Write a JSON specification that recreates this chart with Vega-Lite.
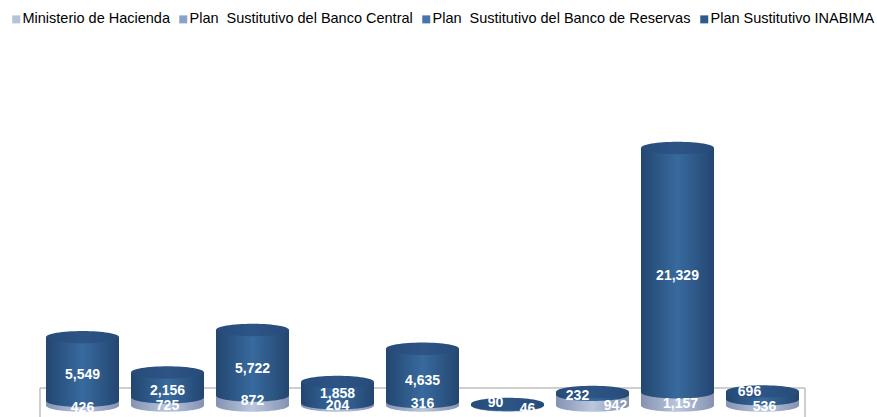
{"$schema":"https://vega.github.io/schema/vega-lite/v6.json","width":765,"height":417,"autosize":"none","padding":{"left":40,"right":72,"top":0,"bottom":0},"background":"white","config":{"view":{"stroke":null},"axis":{"disable":true},"text":{"font":"Liberation Sans","fontWeight":"bold","fontSize":14,"fill":"white","align":"center","baseline":"middle"}},"datasets":{"d":[{"i":0,"series":"Ministerio de Hacienda","value":426},{"i":0,"series":"Plan Sustitutivo INABIMA","value":5549},{"i":1,"series":"Ministerio de Hacienda","value":725},{"i":1,"series":"Plan Sustitutivo INABIMA","value":2156},{"i":2,"series":"Ministerio de Hacienda","value":872},{"i":2,"series":"Plan Sustitutivo INABIMA","value":5722},{"i":3,"series":"Ministerio de Hacienda","value":204},{"i":3,"series":"Plan Sustitutivo INABIMA","value":1858},{"i":4,"series":"Ministerio de Hacienda","value":316},{"i":4,"series":"Plan Sustitutivo INABIMA","value":4635},{"i":5,"series":"Ministerio de Hacienda","value":46},{"i":5,"series":"Plan Sustitutivo INABIMA","value":90},{"i":6,"series":"Ministerio de Hacienda","value":942},{"i":6,"series":"Plan Sustitutivo INABIMA","value":232},{"i":7,"series":"Ministerio de Hacienda","value":1157},{"i":7,"series":"Plan Sustitutivo INABIMA","value":21329},{"i":8,"series":"Ministerio de Hacienda","value":536},{"i":8,"series":"Plan Sustitutivo INABIMA","value":696}],"frame":[{"side":"top","x":-0.5,"x2":8.5,"y":1528,"y2":1528},{"side":"left","x":-0.5,"x2":-0.5,"y":1528,"y2":-1004},{"side":"right","x":8.5,"x2":8.5,"y":1528,"y2":-1004}]},"layer":[{"data":{"name":"frame"},"mark":{"type":"rule","color":"#BFBFBF","strokeWidth":1.5},"encoding":{"x":{"field":"x","type":"quantitative","scale":{"domain":[-0.5,8.5],"nice":false,"zero":false,"padding":0}},"x2":{"field":"x2"},"y":{"field":"y","type":"quantitative","scale":{"domain":[-1004,35415],"nice":false,"zero":false}},"y2":{"field":"y2"}}},{"data":{"name":"d"},"transform":[{"stack":"value","groupby":["i"],"sort":[{"field":"series","order":"ascending"}],"as":["y0","y1"]},{"calculate":"(datum.y0+datum.y1)/2","as":"mid"}],"encoding":{"x":{"field":"i","type":"quantitative"}},"layer":[{"transform":[{"filter":"datum.series==='Ministerio de Hacienda'"}],"mark":{"type":"point","filled":true,"size":5329,"opacity":1,"shape":"M-1,0A1,0.17,0,1,0,1,0A1,0.17,0,1,0,-1,0Z","fill":{"gradient":"linear","x1":0,"x2":1,"y1":0,"y2":0,"stops":[{"offset":0,"color":"#8592B3"},{"offset":0.5,"color":"#BAC7DE"},{"offset":1,"color":"#8592B3"}]}},"encoding":{"y":{"field":"y0","type":"quantitative"}}},{"transform":[{"filter":"datum.series==='Ministerio de Hacienda'"}],"mark":{"type":"bar","size":73,"fill":{"gradient":"linear","x1":0,"x2":1,"y1":0,"y2":0,"stops":[{"offset":0,"color":"#8592B3"},{"offset":0.5,"color":"#BAC7DE"},{"offset":1,"color":"#8592B3"}]}},"encoding":{"y":{"field":"y0","type":"quantitative"},"y2":{"field":"y1"}}},{"transform":[{"filter":"datum.series==='Plan Sustitutivo INABIMA'"}],"mark":{"type":"point","filled":true,"size":5329,"opacity":1,"shape":"M-1,0A1,0.17,0,1,0,1,0A1,0.17,0,1,0,-1,0Z","fill":{"gradient":"linear","x1":0,"x2":1,"y1":0,"y2":0,"stops":[{"offset":0,"color":"#234670"},{"offset":0.5,"color":"#386A9E"},{"offset":1,"color":"#234670"}]}},"encoding":{"y":{"field":"y0","type":"quantitative"}}},{"transform":[{"filter":"datum.series==='Plan Sustitutivo INABIMA'"}],"mark":{"type":"bar","size":73,"fill":{"gradient":"linear","x1":0,"x2":1,"y1":0,"y2":0,"stops":[{"offset":0,"color":"#234670"},{"offset":0.5,"color":"#386A9E"},{"offset":1,"color":"#234670"}]}},"encoding":{"y":{"field":"y0","type":"quantitative"},"y2":{"field":"y1"}}},{"transform":[{"filter":"datum.series==='Plan Sustitutivo INABIMA'"}],"mark":{"type":"point","filled":true,"size":5329,"opacity":1,"shape":"M-1,0A1,0.17,0,1,0,1,0A1,0.17,0,1,0,-1,0Z","fill":{"gradient":"linear","x1":0,"x2":1,"y1":0,"y2":0,"stops":[{"offset":0,"color":"#274C7A"},{"offset":0.5,"color":"#2C5485"},{"offset":1,"color":"#274C7A"}]}},"encoding":{"y":{"field":"y1","type":"quantitative"}}},{"transform":[{"filter":"datum.i===0&&datum.value<0"}],"mark":{"type":"square","opacity":0},"encoding":{"y":{"field":"y1","type":"quantitative"},"color":{"field":"series","type":"nominal","scale":{"domain":["Ministerio de Hacienda","Plan \u00a0Sustitutivo del Banco Central","Plan \u00a0Sustitutivo del Banco de Reservas","Plan Sustitutivo INABIMA"],"range":["#B4C2DA","#8AA2C9","#4674AB","#2F5B8C"]},"legend":{"orient":"none","legendX":-31,"legendY":12,"direction":"horizontal","columns":4,"title":null,"symbolType":"square","symbolSize":64,"symbolOpacity":1,"symbolStrokeWidth":0,"labelFont":"Liberation Sans","labelFontSize":14.5,"labelColor":"#000000","labelOffset":-1,"labelLimit":400,"columnPadding":6}}}},{"transform":[{"filter":"datum.series==='Plan Sustitutivo INABIMA'&&indexof([0,1,2,4,7],datum.i)>=0"}],"mark":{"type":"text","dy":6},"encoding":{"y":{"field":"mid","type":"quantitative"},"text":{"field":"value","type":"quantitative","format":","}}},{"transform":[{"filter":"datum.series==='Plan Sustitutivo INABIMA'&&datum.i===3"}],"mark":{"type":"text","dy":1},"encoding":{"y":{"field":"mid","type":"quantitative"},"text":{"field":"value","type":"quantitative","format":","}}},{"transform":[{"filter":"datum.series==='Plan Sustitutivo INABIMA'&&datum.i===5"}],"mark":{"type":"text","dx":-12,"dy":-1},"encoding":{"y":{"field":"mid","type":"quantitative"},"text":{"field":"value","type":"quantitative","format":","}}},{"transform":[{"filter":"datum.series==='Plan Sustitutivo INABIMA'&&datum.i===6"}],"mark":{"type":"text","dx":-15,"dy":3},"encoding":{"y":{"field":"mid","type":"quantitative"},"text":{"field":"value","type":"quantitative","format":","}}},{"transform":[{"filter":"datum.series==='Plan Sustitutivo INABIMA'&&datum.i===8"}],"mark":{"type":"text","dx":-13,"dy":-3},"encoding":{"y":{"field":"mid","type":"quantitative"},"text":{"field":"value","type":"quantitative","format":","}}},{"transform":[{"filter":"datum.series==='Ministerio de Hacienda'&&indexof([0,1],datum.i)>=0"}],"mark":{"type":"text","dy":5},"encoding":{"y":{"field":"mid","type":"quantitative"},"text":{"field":"value","type":"quantitative","format":","}}},{"transform":[{"filter":"datum.series==='Ministerio de Hacienda'&&indexof([2,4],datum.i)>=0"}],"mark":{"type":"text","dy":0},"encoding":{"y":{"field":"mid","type":"quantitative"},"text":{"field":"value","type":"quantitative","format":","}}},{"transform":[{"filter":"datum.series==='Ministerio de Hacienda'&&datum.i===3"}],"mark":{"type":"text","dy":2},"encoding":{"y":{"field":"mid","type":"quantitative"},"text":{"field":"value","type":"quantitative","format":","}}},{"transform":[{"filter":"datum.series==='Ministerio de Hacienda'&&datum.i===5"}],"mark":{"type":"text","dx":20,"dy":4},"encoding":{"y":{"field":"mid","type":"quantitative"},"text":{"field":"value","type":"quantitative","format":","}}},{"transform":[{"filter":"datum.series==='Ministerio de Hacienda'&&datum.i===6"}],"mark":{"type":"text","dx":23,"dy":6},"encoding":{"y":{"field":"mid","type":"quantitative"},"text":{"field":"value","type":"quantitative","format":","}}},{"transform":[{"filter":"datum.series==='Ministerio de Hacienda'&&datum.i===7"}],"mark":{"type":"text","dx":3,"dy":5},"encoding":{"y":{"field":"mid","type":"quantitative"},"text":{"field":"value","type":"quantitative","format":","}}},{"transform":[{"filter":"datum.series==='Ministerio de Hacienda'&&datum.i===8"}],"mark":{"type":"text","dx":2,"dy":5},"encoding":{"y":{"field":"mid","type":"quantitative"},"text":{"field":"value","type":"quantitative","format":","}}}]}]}
